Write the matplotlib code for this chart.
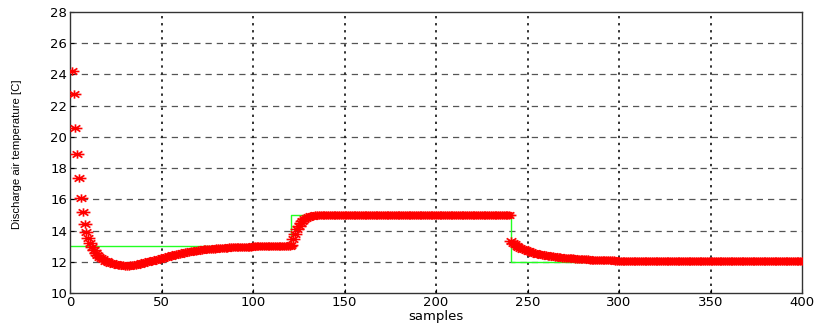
import matplotlib
matplotlib.use("Agg")
import matplotlib.pyplot as plt
from matplotlib.path import Path

# setpoint (green step line)
sp_x = [0, 121, 121, 241, 241, 400]
sp_y = [13, 13, 15, 15, 12, 12]

seg1 = [24.25, 22.76, 20.60, 18.90, 17.35, 16.07, 15.17, 14.42, 13.89, 13.50,
        13.20, 12.95, 12.75, 12.58, 12.44, 12.33, 12.23, 12.15, 12.08, 12.02,
        11.97, 11.93, 11.89, 11.86, 11.83, 11.81, 11.79, 11.78, 11.77, 11.76,
        11.76, 11.76, 11.77, 11.78, 11.80, 11.82, 11.84, 11.87, 11.90, 11.93,
        11.96, 11.99, 12.02, 12.05, 12.08, 12.11, 12.14, 12.17, 12.20, 12.23,
        12.26, 12.29, 12.32, 12.35, 12.38, 12.41, 12.44, 12.47, 12.50, 12.53,
        12.55, 12.58, 12.60, 12.62, 12.64, 12.66, 12.68, 12.70, 12.72, 12.74,
        12.76, 12.77, 12.79, 12.80, 12.81, 12.82, 12.83, 12.84, 12.85, 12.86,
        12.87, 12.88, 12.89, 12.90, 12.91, 12.91, 12.92, 12.93, 12.93, 12.94,
        12.94, 12.95, 12.95, 12.96, 12.96, 12.96, 12.97, 12.97, 12.97, 12.98,
        12.98, 12.98, 12.98, 12.99, 12.99, 12.99, 12.99, 12.99, 12.99, 13.00,
        13.00, 13.00, 13.00, 13.00, 13.00, 13.00, 13.00, 13.00, 13.00, 13.00]
seg2 = [13.05, 13.45, 13.80, 14.08, 14.30, 14.48, 14.62, 14.73, 14.81, 14.87,
        14.91, 14.94, 14.96, 14.97, 14.98, 14.99, 14.99, 15.00, 15.00, 15.00,
        15.00, 15.00, 15.00, 15.00, 15.00, 15.00, 15.00, 15.00, 15.00, 15.00,
        15.00, 15.00, 15.00, 15.00, 15.00, 15.00, 15.00, 15.00, 15.00, 15.00,
        15.00, 15.00, 15.00, 15.00, 15.00, 15.00, 15.00, 15.00, 15.00, 15.00,
        15.00, 15.00, 15.00, 15.00, 15.00, 15.00, 15.00, 15.00, 15.00, 15.00,
        15.00, 15.00, 15.00, 15.00, 15.00, 15.00, 15.00, 15.00, 15.00, 15.00,
        15.00, 15.00, 15.00, 15.00, 15.00, 15.00, 15.00, 15.00, 15.00, 15.00,
        15.00, 15.00, 15.00, 15.00, 15.00, 15.00, 15.00, 15.00, 15.00, 15.00,
        15.00, 15.00, 15.00, 15.00, 15.00, 15.00, 15.00, 15.00, 15.00, 15.00,
        15.00, 15.00, 15.00, 15.00, 15.00, 15.00, 15.00, 15.00, 15.00, 15.00,
        15.00, 15.00, 15.00, 15.00, 15.00, 15.00, 15.00, 15.00, 15.00, 15.00]
seg3 = [13.30, 13.20, 13.11, 13.03, 12.96, 12.90, 12.84, 12.79, 12.74, 12.70,
        12.66, 12.62, 12.59, 12.56, 12.53, 12.50, 12.48, 12.45, 12.43, 12.41,
        12.39, 12.37, 12.36, 12.34, 12.33, 12.31, 12.30, 12.29, 12.27, 12.26,
        12.25, 12.24, 12.23, 12.22, 12.21, 12.20, 12.19, 12.19, 12.18, 12.17,
        12.16, 12.16, 12.15, 12.14, 12.14, 12.13, 12.13, 12.12, 12.12, 12.11,
        12.11, 12.10, 12.10, 12.10, 12.09, 12.09, 12.09, 12.08, 12.08, 12.08,
        12.07, 12.07, 12.07, 12.07, 12.06, 12.06, 12.06, 12.06, 12.06, 12.06,
        12.05, 12.05, 12.05, 12.05, 12.05, 12.05, 12.05, 12.05, 12.05, 12.05,
        12.04, 12.04, 12.04, 12.04, 12.04, 12.04, 12.04, 12.04, 12.04, 12.04,
        12.04, 12.04, 12.04, 12.04, 12.04, 12.04, 12.04, 12.04, 12.04, 12.04,
        12.03, 12.03, 12.03, 12.03, 12.03, 12.03, 12.03, 12.03, 12.03, 12.03,
        12.03, 12.03, 12.03, 12.03, 12.03, 12.03, 12.03, 12.03, 12.03, 12.03,
        12.03, 12.03, 12.03, 12.03, 12.03, 12.03, 12.03, 12.03, 12.03, 12.03,
        12.03, 12.03, 12.03, 12.03, 12.03, 12.03, 12.03, 12.03, 12.03, 12.03,
        12.03, 12.03, 12.03, 12.03, 12.03, 12.03, 12.03, 12.03, 12.03, 12.03,
        12.03, 12.03, 12.03, 12.03, 12.03, 12.03, 12.03, 12.03, 12.03, 12.03]

temp = seg1 + seg2 + seg3
samples = list(range(1, len(temp) + 1))

xticks = [0, 50, 100, 150, 200, 250, 300, 350, 400]
yticks = [10, 12, 14, 16, 18, 20, 22, 24, 26, 28]

# wide asterisk like the stretched matlab '*'
star = Path([(-1, 0), (1, 0), (0, -0.6), (0, 0.6), (-0.7, -0.45), (0.7, 0.45),
             (-0.7, 0.45), (0.7, -0.45)],
            [Path.MOVETO, Path.LINETO] * 4)

fig = plt.figure(figsize=(8.22, 3.27), dpi=100)
ax = fig.add_axes([70 / 822, 1 - 293 / 327, 732 / 822, 281 / 327])

for t in yticks[1:-1]:
    ax.axhline(t, color="#555555", lw=0.9, ls=(0, (5, 4)), zorder=1)
for t in xticks[1:-1]:
    ax.axvline(t, color="#222222", lw=1.3, ls=(0, (1.3, 2.6)), zorder=1)

ax.plot(sp_x, sp_y, color="#22ff22", lw=1.0, zorder=2)
ax.plot(samples, temp, ls="none", marker=star, ms=10, mew=1.2,
        color="#ff0000", mec="#ff0000", zorder=3)

ax.set_xlim(0, 400)
ax.set_ylim(10, 28)
ax.set_xticks(xticks)
ax.set_yticks(yticks)
ax.tick_params(direction="in", length=3, labelsize=9.5, pad=2)
for s in ax.spines.values():
    s.set_color("#333333")
    s.set_linewidth(1.0)

ax.set_xlabel("samples", fontsize=9.5, labelpad=1)
ylab = ax.set_ylabel("Discharge air temperature [C]", fontsize=8,
                     family=["Liberation Sans Narrow", "Liberation Sans"])
# fit the label roughly to the length it has in the original
fig.canvas.draw()
h = ylab.get_window_extent().height
ylab.set_fontsize(8 * 150 / h)
ax.yaxis.set_label_coords(-48 / 732, 0.495)

fig.savefig("out.png", dpi=100)
